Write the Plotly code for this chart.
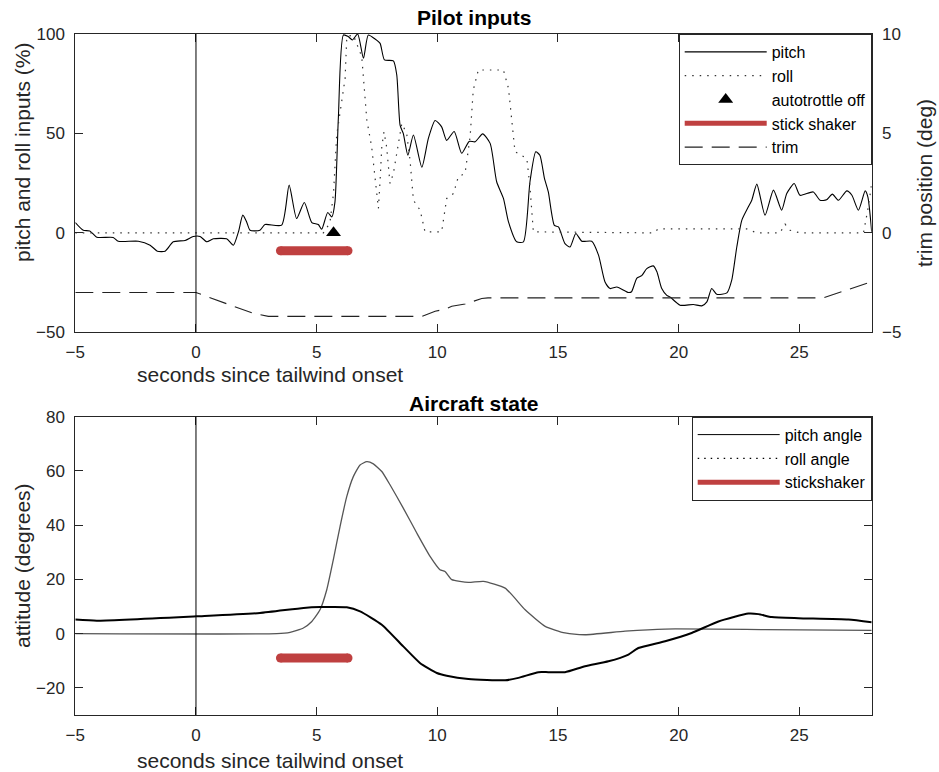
import plotly.graph_objects as go

# ---------------- Pilot inputs (top panel) ----------------
pitch_t = [-5, -4.67, -4.4, -4.11, -3.43, -3.22, -2.39, -1.9, -1.6, -1.28, -0.94, -0.45, -0.11, 0.17,
           0.45, 0.72, 1.27, 1.55, 1.76, 1.94, 2.1, 2.24, 2.65, 2.86, 3.55, 3.86, 4.17, 4.49, 4.80,
           5.07, 5.21, 5.46, 5.63, 5.76, 5.90, 6.11, 6.31, 6.48, 6.7, 6.94, 7.14, 7.42, 7.63, 7.81,
           8.18, 8.32, 8.46, 8.59, 8.78, 9.01, 9.36, 9.63, 9.91, 10.18, 10.39, 10.7, 11.01, 11.32,
           11.57, 11.88, 12.19, 12.46, 12.74, 12.95, 13.29, 13.57, 13.84, 14.08, 14.25, 14.44, 14.6,
           14.85, 15.02, 15.29, 15.5, 15.74, 15.99, 16.40, 16.68, 16.95, 17.16, 17.44, 17.92, 18.05,
           18.27, 18.47, 18.68, 18.95, 19.1, 19.30, 19.51, 19.64, 20.06, 20.61, 20.96, 21.17, 21.37,
           21.58, 22.0, 22.2, 22.41, 22.62, 22.89, 23.03, 23.24, 23.58, 23.93, 24.27, 24.48, 24.79,
           25.03, 25.58, 25.86, 26.13, 26.37, 26.62, 26.97, 27.18, 27.45, 27.73, 27.84, 28.0]
pitch_v = [5.2, 1.3, 1.0, -2.2, -2.3, -4.2, -4.2, -6.2, -9.2, -9.2, -4.5, -3.8, -1.8, -1.8,
           -4.5, -3.0, -3.0, -6.2, 0.5, 8.9, 5.5, 1.3, 1.3, 4.2, 3.9, 24.0, 7.2, 15.3, 5.2,
           4.2, 1.8, 10.2, 8.0, 15.6, 57.6, 99.5, 98.7, 97.0, 100.0, 87.8, 99.5, 97.5, 95.3, 87.0,
           86.5, 79.4, 54.0, 50.0, 39.1, 49.2, 33.0, 47.5, 56.5, 53.3, 46.5, 51.0, 40.0, 46.0,
           45.8, 49.8, 45.0, 25.7, 17.3, 5.5, -4.5, -4.5, 25.7, 40.8, 39.0, 27.4, 20.6,
           3.8, 3.0, -5.4, -7.1, -0.3, -4.2, -4.2, -11.2, -24.7, -28.0, -27.2, -30.0, -29.6,
           -22.7, -21.5, -18.0, -16.6, -19.6, -28.0, -31.4, -32.2, -36.4, -36.0, -36.7, -34.7, -28.0,
           -30.9, -30.2, -23.8, -7.1, 6.4, 13.1, 16.4, 24.5, 8.9, 21.5, 11.4, 19.8, 24.8,
           18.9, 20.6, 16.4, 16.6, 19.5, 16.4, 21.1, 18.9, 11.4, 21.1, 18.1, 0.5]

roll_t = [-5, 5.28, 5.55, 5.7, 5.83, 5.97, 6.18, 6.25, 6.52, 6.87, 7.08, 7.28, 7.49, 7.56, 7.63,
          7.70, 7.79, 7.90, 8.04, 8.18, 8.39, 8.53, 8.73, 8.87, 9.01, 9.29, 9.49, 10.18, 10.39,
          10.67, 10.87, 11.15, 11.36, 11.49, 11.70, 12.74, 12.95, 13.22, 13.71, 13.84, 13.98,
          18.95, 19.16, 22.82, 23.24, 24.2, 24.41, 24.62, 25.03, 27.66, 27.86, 28.0]
roll_v = [0, 0, 5, 20, 49, 60.1, 77.7, 98.7, 99.5, 88.6, 56.7, 43.3, 19.8, 12.3, 26.5,
          43.3, 50.8, 43.3, 24.8, 29.9, 45, 55, 50, 36.6, 16.4, 11.4, 0.5, 0.5, 17.3,
          19.8, 28.2, 29.9, 48.3, 71.8, 81.9, 81.9, 72.7, 40.8, 37.4, 23.2, 0.5,
          0, 2, 2, 0, 0, 4.4, 1.3, 0, 0, 13.1, 24.8]

trim_t = [-5, 0, 1.4, 2.4, 3.0, 9.36, 9.91, 10.32, 10.6, 11.15, 11.84, 12.1, 26.0, 27.6, 28.0]
trim_v = [-3.0, -3.0, -3.62, -4.05, -4.2, -4.2, -3.94, -3.84, -3.69, -3.58, -3.3, -3.27, -3.27, -2.6, -2.45]

autothrottle_t = [5.7]
autothrottle_v = [0]

shaker_t = [3.5, 6.3]
shaker_level = [-9, -9]

# ---------------- Aircraft state (bottom panel) ----------------
pitch_angle_t = [-5, 3.35, 3.90, 4.45, 4.80, 5.14, 5.42, 5.69, 5.97, 6.25, 6.52, 6.80, 7.08, 7.35,
                 7.70, 8.04, 8.59, 9.15, 9.70, 10.11, 10.32, 10.6, 11.29, 11.91, 12.81, 13.64,
                 14.47, 15.29, 16.12, 17.78, 19.44, 23.58, 28]
pitch_angle_v = [0, 0, 0.5, 2.1, 4.5, 8.8, 16.2, 27.2, 39.5, 50.6, 57.9, 62.2, 63.4, 62.6,
                 59.8, 54.9, 46.3, 37.1, 28.5, 23.6, 22.9, 19.9, 18.9, 19.3, 16.8, 8.8,
                 2.7, 0.25, -0.4, 0.9, 1.7, 1.5, 1.2]

roll_angle_t = [-5, -4.11, 0.03, 2.65, 4.46, 5.14, 6.25, 6.8, 7.70, 8.59, 9.28, 9.98, 10.39, 11.29,
                12.81, 13.36, 14.19, 14.6, 15.29, 16.12, 17.09, 17.92, 18.33, 19.44, 20.54, 21.65,
                22.89, 23.31, 23.86, 24.96, 27.03, 28]
roll_angle_v = [5.2, 4.8, 6.4, 7.6, 9.5, 9.8, 9.7, 8.2, 3.3, -4.7, -10.8, -14.5, -15.5, -16.7,
                -17.2, -16.3, -14.2, -14.2, -14.2, -12, -10.2, -7.7, -5.3, -2.8, 0.25, 4.5,
                7.4, 7.2, 6.1, 5.7, 5.2, 4.2]

x_ticks = [-5, 0, 5, 10, 15, 20, 25]

RED = "#BF4040"
AX = "#262626"
FONT = "Liberation Sans, Arial, Helvetica, sans-serif"

fig = go.Figure()

# top panel traces
fig.add_trace(go.Scatter(x=pitch_t, y=pitch_v, mode="lines", name="pitch",
                         line=dict(color="black", width=1.1, shape="spline", smoothing=0.6),
                         xaxis="x", yaxis="y", legend="legend"))
fig.add_trace(go.Scatter(x=roll_t, y=roll_v, mode="lines", name="roll",
                         line=dict(color="#333333", width=1.2, dash="1.5px,6px"),
                         xaxis="x", yaxis="y", legend="legend"))
fig.add_trace(go.Scatter(x=autothrottle_t, y=autothrottle_v, mode="markers", name="autotrottle off",
                         marker=dict(symbol="triangle-up", size=13, color="black"),
                         xaxis="x", yaxis="y", legend="legend"))
fig.add_trace(go.Scatter(x=shaker_t, y=shaker_level, mode="lines+markers", showlegend=False,
                         line=dict(color=RED, width=9), marker=dict(size=9, color=RED),
                         xaxis="x", yaxis="y", legend="legend"))
fig.add_trace(go.Scatter(x=[None], y=[None], mode="lines", name="stick shaker",
                         line=dict(color=RED, width=5), xaxis="x", yaxis="y", legend="legend"))
fig.add_trace(go.Scatter(x=trim_t, y=trim_v, mode="lines", name="trim",
                         line=dict(color="#222222", width=1.1, dash="18px,9px"),
                         xaxis="x", yaxis="y2", legend="legend"))

# bottom panel traces
fig.add_trace(go.Scatter(x=pitch_angle_t, y=pitch_angle_v, mode="lines", showlegend=False,
                         line=dict(color="#555555", width=1.3, shape="spline", smoothing=0.5),
                         xaxis="x2", yaxis="y3"))
fig.add_trace(go.Scatter(x=roll_angle_t, y=roll_angle_v, mode="lines", showlegend=False,
                         line=dict(color="black", width=2, shape="spline", smoothing=0.5),
                         xaxis="x2", yaxis="y3"))
fig.add_trace(go.Scatter(x=shaker_t, y=shaker_level, mode="lines+markers", showlegend=False,
                         line=dict(color=RED, width=9), marker=dict(size=9, color=RED),
                         xaxis="x2", yaxis="y3"))
fig.add_trace(go.Scatter(x=[None], y=[None], mode="lines", name="pitch angle",
                         line=dict(color="black", width=1), xaxis="x2", yaxis="y3", legend="legend2"))
fig.add_trace(go.Scatter(x=[None], y=[None], mode="lines", name="roll angle",
                         line=dict(color="black", width=1.1, dash="1.5px,5px"),
                         xaxis="x2", yaxis="y3", legend="legend2"))
fig.add_trace(go.Scatter(x=[None], y=[None], mode="lines", name="stickshaker",
                         line=dict(color=RED, width=5), xaxis="x2", yaxis="y3", legend="legend2"))

W, H = 939, 772
xdom = [75.3 / W, 871.7 / W]
top_dom = [1 - 332.3 / H, 1 - 34 / H]
bot_dom = [1 - 715 / H, 1 - 416.7 / H]

axis_common = dict(showline=True, linecolor=AX, linewidth=1, ticks="inside", ticklen=8,
                   tickcolor=AX, tickwidth=1, showgrid=False, zeroline=False, automargin=False,
                   tickfont=dict(family=FONT, size=17, color=AX))

leg_common = dict(xanchor="right", yanchor="top", bordercolor=AX, borderwidth=1,
                  bgcolor="white", itemwidth=82,
                  font=dict(family=FONT, size=16, color="black"))

fig.update_layout(
    width=W, height=H, margin=dict(l=0, r=0, t=0, b=0, autoexpand=False),
    paper_bgcolor="white", plot_bgcolor="white",
    font=dict(family=FONT, color=AX),
    xaxis=dict(domain=xdom, range=[-5, 28], tickvals=x_ticks, mirror="ticks",
               anchor="y", ticklabelstandoff=4, **axis_common),
    yaxis=dict(domain=top_dom, range=[-50, 100], tickvals=[-50, 0, 50, 100], mirror="ticks",
               anchor="x", ticklabelstandoff=6, **axis_common),
    yaxis2=dict(overlaying="y", side="right", range=[-5, 10], tickvals=[-5, 0, 5, 10],
                anchor="x", ticklabelstandoff=6, **axis_common),
    xaxis2=dict(domain=xdom, range=[-5, 28], tickvals=x_ticks, mirror="ticks",
                anchor="y3", ticklabelstandoff=5, **axis_common),
    yaxis3=dict(domain=bot_dom, range=[-30, 80], tickvals=[-20, 0, 20, 40, 60, 80], mirror="ticks",
                anchor="x2", ticklabelstandoff=6, **axis_common),
    legend=dict(x=xdom[1], y=top_dom[1], **leg_common),
    legend2=dict(x=xdom[1], y=bot_dom[1], **leg_common),
    showlegend=True,
)

# vertical reference line at tailwind onset
fig.add_shape(type="line", xref="x", yref="y domain", x0=0, x1=0, y0=0, y1=1,
              line=dict(color="black", width=1))
fig.add_shape(type="line", xref="x2", yref="y3 domain", x0=0, x1=0, y0=0, y1=1,
              line=dict(color="black", width=1))

def note(text, x, y, size=21, bold=False, angle=0, color=AX):
    fig.add_annotation(text=f"<b>{text}</b>" if bold else text, x=x / W, y=1 - y / H,
                       xref="paper", yref="paper", showarrow=False, textangle=angle,
                       xanchor="center", yanchor="middle",
                       font=dict(family=FONT, size=size, color=color))

note("Pilot inputs", 473.5, 18, size=21, bold=True, color="black")
note("Aircraft state", 473.5, 403, size=21, bold=True, color="black")
note("seconds since tailwind onset", 270, 375)
note("seconds since tailwind onset", 270, 760)
note("pitch and roll inputs (%)", 22, 153, angle=-90)
note("attitude (degrees)", 22, 566, angle=-90)
note("trim position (deg)", 925, 183, angle=-90)

fig.write_html("out.html")
